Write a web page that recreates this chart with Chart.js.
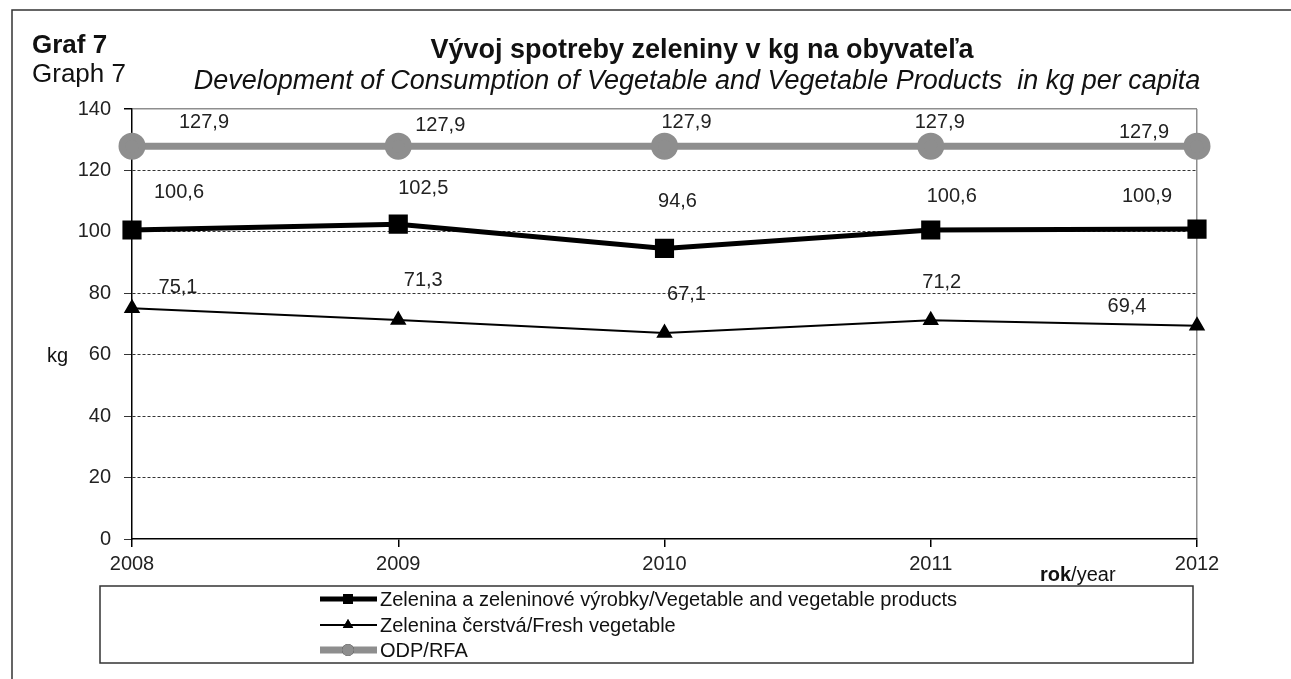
<!DOCTYPE html>
<html>
<head>
<meta charset="utf-8">
<script src="https://cdn.jsdelivr.net/npm/chart.js@4/dist/chart.umd.min.js"></script>
<style>
  html, body { margin: 0; padding: 0; background: #fff; }
  #wrap { width: 1291px; height: 679px; position: relative; }
</style>
</head>
<body>
<div id="wrap"><canvas id="myChart"></canvas></div>
<script>
// data
const years = ['2008', '2009', '2010', '2011', '2012'];
const vegProducts = [100.6, 102.5, 94.6, 100.6, 100.9];
const freshVeg = [75.1, 71.3, 67.1, 71.2, 69.4];
const rfa = [127.9, 127.9, 127.9, 127.9, 127.9];
const yTicks = [0, 20, 40, 60, 80, 100, 120, 140];

const seriesNames = [
    'Zelenina a zeleninové výrobky/Vegetable and vegetable products',
    'Zelenina čerstvá/Fresh vegetable',
    'ODP/RFA'
];

// where Excel put the value labels, relative to each point (px)
const labelShift = [
    [[47, -38], [25, -36], [13, -47], [21, -34], [-50, -33]],
    [[46, -21], [25, -40], [22, -38], [11, -38], [-70, -19]],
    [[72, -24], [42, -21], [22, -24], [9, -24], [-53, -14]]
];

const FONT = '"Liberation Sans", Arial, sans-serif';
const GRAY = '#8e8e8e';

const decorations = {
    id: 'decorations',
    beforeDraw(chart) {
        const ctx = chart.ctx;
        ctx.save();
        // outer frame
        ctx.strokeStyle = '#333';
        ctx.lineWidth = 1.5;
        ctx.beginPath();
        ctx.moveTo(12, 679);
        ctx.lineTo(12, 10);
        ctx.lineTo(1291, 10);
        ctx.stroke();

        ctx.fillStyle = '#111';
        ctx.textBaseline = 'alphabetic';
        ctx.textAlign = 'left';
        ctx.font = 'bold 26px ' + FONT;
        ctx.fillText('Graf 7', 32, 53);
        ctx.font = '26px ' + FONT;
        ctx.fillText('Graph 7', 32, 82);

        ctx.textAlign = 'center';
        ctx.font = 'bold 27px ' + FONT;
        ctx.fillText('Vývoj spotreby zeleniny v kg na obyvateľa', 702, 58);
        ctx.font = 'italic 27px ' + FONT;
        ctx.fillText('Development of Consumption of Vegetable and Vegetable Products  in kg per capita', 697, 89);

        ctx.textAlign = 'left';
        ctx.textBaseline = 'middle';
        ctx.font = '20px ' + FONT;
        ctx.fillText('kg', 47, 356);

        ctx.textBaseline = 'alphabetic';
        ctx.font = 'bold 20px ' + FONT;
        ctx.fillText('rok', 1040, 581);
        const w = ctx.measureText('rok').width;
        ctx.font = '20px ' + FONT;
        ctx.fillText('/year', 1040 + w, 581);
        ctx.restore();
    },
    afterDatasetsDraw(chart) {
        const ctx = chart.ctx;
        ctx.save();
        ctx.font = '20px ' + FONT;
        ctx.fillStyle = '#222';
        ctx.textAlign = 'center';
        ctx.textBaseline = 'middle';
        chart.data.datasets.forEach((ds, i) => {
            const meta = chart.getDatasetMeta(i);
            meta.data.forEach((pt, j) => {
                const s = labelShift[i][j];
                const txt = ds.data[j].toFixed(1).replace('.', ',');
                ctx.fillText(txt, pt.x + s[0], pt.y + s[1]);
            });
        });

        // legend box
        ctx.strokeStyle = '#333';
        ctx.lineWidth = 1.5;
        ctx.strokeRect(100, 586, 1093, 77);
        const rows = [599, 625, 650];
        ctx.textAlign = 'left';
        ctx.font = '20px ' + FONT;
        chart.data.datasets.forEach((ds, i) => {
            const y = rows[i];
            ctx.strokeStyle = ds.borderColor;
            ctx.lineWidth = ds.borderWidth;
            ctx.beginPath();
            ctx.moveTo(320, y);
            ctx.lineTo(377, y);
            ctx.stroke();
            Chart.helpers.drawPoint(ctx, {
                pointStyle: ds.pointStyle,
                radius: ds.legendRadius,
                borderWidth: 0
            }, 348, y);
            ctx.fillStyle = ds.pointBackgroundColor;
            ctx.fill();
            ctx.fillStyle = '#111';
            ctx.fillText(ds.label, 380, y + 1);
        });
        ctx.restore();
    }
};

const ctx = document.getElementById('myChart').getContext('2d');
new Chart(ctx, {
    type: 'line',
    data: {
        labels: years,
        datasets: [{
            label: seriesNames[0],
            data: vegProducts,
            borderColor: '#000',
            backgroundColor: '#000',
            pointBackgroundColor: '#000',
            borderWidth: 5,
            pointStyle: 'rect',
            pointRadius: 10,
            legendRadius: 7,
            order: 1
        }, {
            label: seriesNames[1],
            data: freshVeg,
            borderColor: '#000',
            backgroundColor: '#000',
            pointBackgroundColor: '#000',
            borderWidth: 2,
            pointStyle: 'triangle',
            pointRadius: 7.5,
            legendRadius: 6,
            order: 2
        }, {
            label: seriesNames[2],
            data: rfa,
            borderColor: GRAY,
            backgroundColor: GRAY,
            pointBackgroundColor: GRAY,
            borderWidth: 7,
            pointStyle: 'circle',
            pointRadius: 10,
            legendRadius: 6,
            order: 3
        }]
    },
    options: {
        responsive: true,
        maintainAspectRatio: false,
        animation: false,
        clip: false,
        layout: { padding: { left: 52, right: 94, top: 109, bottom: 100 } },
        elements: {
            line: { tension: 0 },
            point: { borderWidth: 0, hoverRadius: 10 }
        },
        plugins: {
            legend: { display: false },
            tooltip: { enabled: false }
        },
        scales: {
            x: {
                offset: false,
                afterFit: s => { s.height = 40; },
                grid: {
                    color: c => c.index === years.length - 1 ? GRAY : 'transparent',
                    lineWidth: 1.5,
                    tickColor: '#000',
                    tickLength: 8
                },
                border: { color: '#000', width: 1.5 },
                ticks: {
                    color: '#222',
                    padding: 5,
                    maxRotation: 0,
                    font: { family: FONT, size: 20 }
                }
            },
            y: {
                min: 0,
                max: 140,
                afterFit: s => { s.width = 80; },
                afterBuildTicks: s => { s.ticks = yTicks.map(v => ({ value: v })); },
                grid: {
                    color: c => c.tick.value === 140 ? GRAY : (c.tick.value === 0 ? 'transparent' : '#000'),
                    lineWidth: c => c.tick.value === 140 ? 1.5 : 0.8,
                    tickColor: '#000',
                    tickLength: 8
                },
                border: {
                    color: '#000',
                    width: 1.5,
                    dash: c => c.tick && c.tick.value === 140 ? [] : [3, 2]
                },
                ticks: {
                    color: '#222',
                    padding: 13,
                    font: { family: FONT, size: 20 }
                }
            }
        }
    },
    plugins: [decorations]
});
</script>
</body>
</html>
